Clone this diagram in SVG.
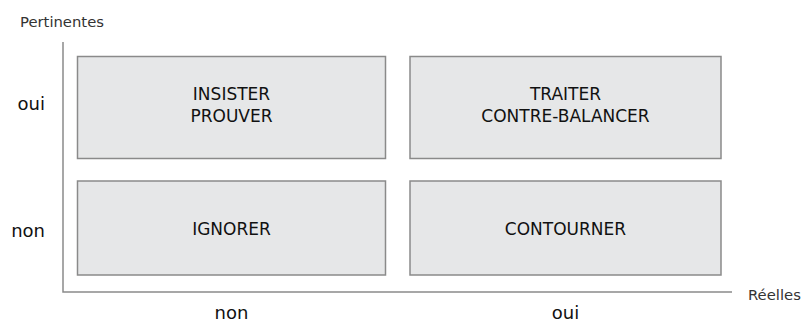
<svg xmlns="http://www.w3.org/2000/svg" width="803" height="322" viewBox="0 0 803 322">
<style>
.box{fill:#e6e7e8;stroke:#8a8a8a;stroke-width:1.5}
.axis{stroke:#8a8a8a;stroke-width:1.5;fill:none}
.lbl{font-family:"DejaVu Sans",sans-serif;font-size:17px;fill:#111;text-anchor:middle}
.tick{font-family:"DejaVu Sans",sans-serif;font-size:18px;fill:#111}
.ax{font-family:"DejaVu Sans",sans-serif;font-size:14.8px;fill:#333}
</style>
<rect width="803" height="322" fill="#fff"/>
<g id="connectors">
<path class="axis" d="M63,42 V292 H732"/>
</g>
<text class="ax" x="20" y="27">Pertinentes</text>
<text class="ax" x="748" y="300">Réelles</text>
<text class="tick" x="45" y="110" text-anchor="end">oui</text>
<text class="tick" x="45" y="236.5" text-anchor="end">non</text>
<text class="tick" x="231.5" y="318.5" text-anchor="middle">non</text>
<text class="tick" x="565.5" y="318.5" text-anchor="middle">oui</text>
<g id="insister">
<rect class="box" x="77.5" y="56.5" width="308" height="102"/>
<text class="lbl" x="231.5" y="99.5">INSISTER</text>
<text class="lbl" x="231.5" y="122">PROUVER</text>
</g>
<g id="traiter">
<rect class="box" x="410" y="56.5" width="311" height="102"/>
<text class="lbl" x="565.5" y="99.5">TRAITER</text>
<text class="lbl" x="565.5" y="122">CONTRE-BALANCER</text>
</g>
<g id="ignorer">
<rect class="box" x="77.5" y="181" width="308" height="94"/>
<text class="lbl" x="231.5" y="234.5">IGNORER</text>
</g>
<g id="contourner">
<rect class="box" x="410" y="181" width="311" height="94"/>
<text class="lbl" x="565.5" y="234.5">CONTOURNER</text>
</g>
</svg>
